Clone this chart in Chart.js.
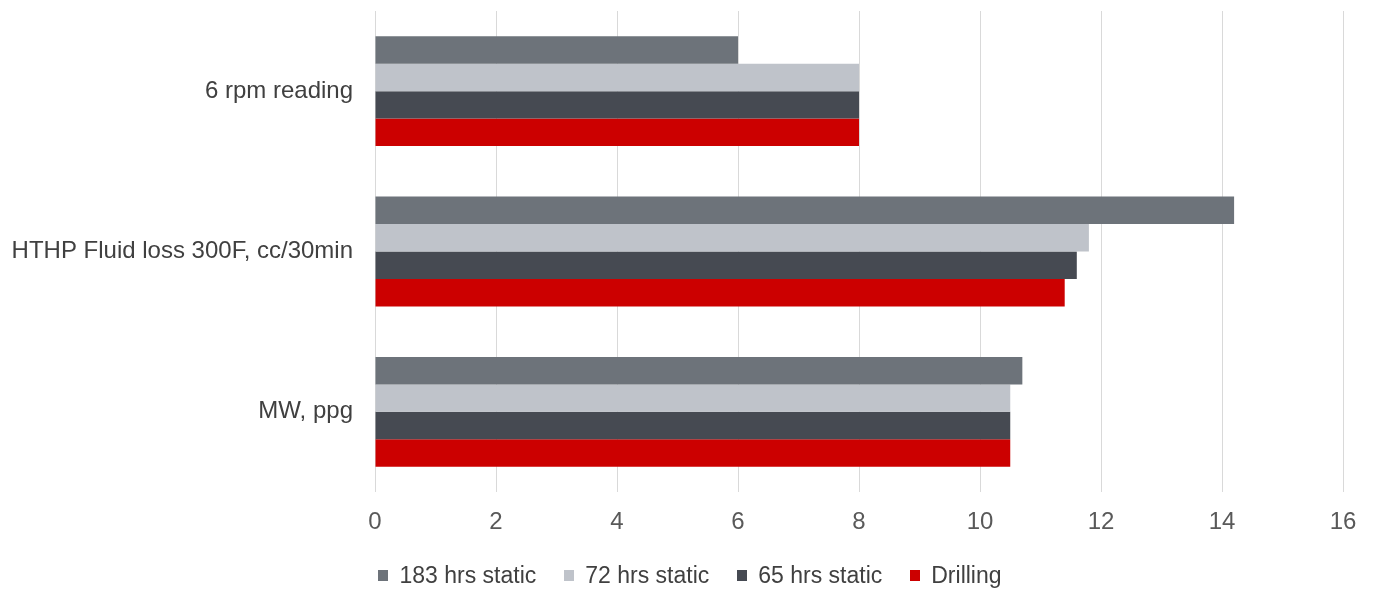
<!DOCTYPE html>
<html>
<head>
<meta charset="utf-8">
<style>
  html, body { margin: 0; padding: 0; background: #ffffff; }
  #wrap { width: 1380px; height: 590px; position: relative; }
  #legend {
    position: absolute; left: 0; top: 561px; width: 1380px; height: 28px;
    display: flex; justify-content: center; align-items: center;
    font-family: 'Liberation Sans', Arial, sans-serif; font-size: 23px; color: #404040;
  }
  #legend .item { display: flex; align-items: center; margin: 0 14px; white-space: nowrap; }
  #legend .box { width: 10px; height: 11px; margin-right: 11px; }
</style>
<script src="https://cdn.jsdelivr.net/npm/chart.js@4.4.1/dist/chart.umd.min.js"></script>
</head>
<body>
<div id="wrap">
  <canvas id="chart" width="1380" height="590"></canvas>
  <div id="legend"></div>
</div>
<script>
// Mud properties under static ageing vs. drilling conditions
const categories = ["6 rpm reading", "HTHP Fluid loss 300F, cc/30min", "MW, ppg"];
const seriesNames = ["183 hrs static", "72 hrs static", "65 hrs static", "Drilling"];
const static183 = [6, 14.2, 10.7];
const static72 = [8, 11.8, 10.5];
const static65 = [8, 11.6, 10.5];
const drilling = [8, 11.4, 10.5];
const xTicks = [0, 2, 4, 6, 8, 10, 12, 14, 16];

const seriesValues = [static183, static72, static65, drilling];
const seriesColors = ["#6d737a", "#bfc3ca", "#464a52", "#cc0000"];

const FONT = "'Liberation Sans', Arial, sans-serif";

// Legend row beneath the axis
const legendEl = document.getElementById("legend");
seriesNames.forEach((name, i) => {
  const item = document.createElement("div");
  item.className = "item";
  const box = document.createElement("span");
  box.className = "box";
  box.style.background = seriesColors[i];
  const txt = document.createElement("span");
  txt.textContent = name;
  item.appendChild(box);
  item.appendChild(txt);
  legendEl.appendChild(item);
});

new Chart(document.getElementById("chart"), {
  type: "bar",
  data: {
    labels: categories,
    datasets: seriesNames.map((name, i) => ({
      label: name,
      data: seriesValues[i],
      backgroundColor: seriesColors[i],
      borderWidth: 0,
      categoryPercentage: 0.685,
      barPercentage: 1.0
    }))
  },
  options: {
    indexAxis: "y",
    responsive: false,
    animation: false,
    layout: { padding: { top: 11, right: 37, bottom: 37, left: 8 } },
    plugins: {
      tooltip: { enabled: false },
      legend: { display: false }
    },
    scales: {
      x: {
        min: xTicks[0],
        max: xTicks[xTicks.length - 1],
        afterBuildTicks(scale) {
          scale.ticks = xTicks.map(v => ({ value: v }));
        },
        afterFit(scale) { scale.height = 61; },
        grid: { color: "#d9d9d9", lineWidth: 1, drawTicks: false, tickLength: 0 },
        border: { display: false },
        ticks: {
          font: { family: FONT, size: 24 },
          color: "#595959",
          padding: 16
        }
      },
      y: {
        afterFit(scale) {
          scale.width = 367;
          scale.paddingTop = 0;
          scale.paddingBottom = 0;
        },
        grid: { display: false, drawTicks: false, tickLength: 0 },
        border: { display: false },
        ticks: {
          font: { family: FONT, size: 24 },
          color: "#404040",
          padding: 22
        }
      }
    }
  }
});
</script>
</body>
</html>
